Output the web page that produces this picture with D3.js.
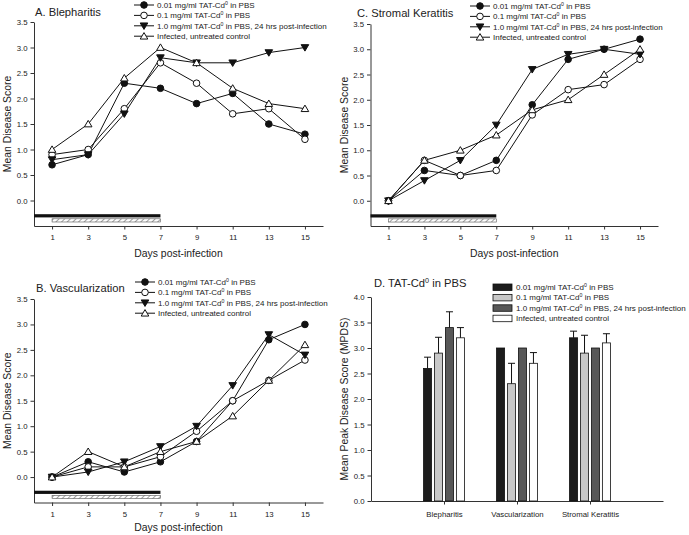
<!DOCTYPE html>
<html><head><meta charset="utf-8">
<script src="https://cdn.jsdelivr.net/npm/d3@7"></script>
<style>
body{margin:0;background:#fff;}
svg text{font-family:"Liberation Sans",Arial,sans-serif;fill:#222;}
</style></head>
<body><svg id="c" width="689" height="535"></svg>
<script>
// ---------- DATA ----------
const days = [1,3,5,7,9,11,13,15];
const seriesNames = ["0.01 mg/ml TAT-Cd|0| in PBS","0.1 mg/ml TAT-Cd|0| in PBS","1.0 mg/ml TAT-Cd|0| in PBS, 24 hrs post-infection","Infected, untreated control"];
const markerTypes = ["filledCircle","openCircle","filledDown","openUp"];

const blepharitis01 = [0.7,0.9,2.3,2.2,1.9,2.1,1.5,1.3];
const blepharitis1  = [0.9,1.0,1.8,2.7,2.3,1.7,1.8,1.2];
const blepharitis10 = [0.8,0.9,1.7,2.8,2.7,2.7,2.9,3.0];
const blepharitisCtl= [1.0,1.5,2.4,3.0,2.7,2.2,1.9,1.8];

const vasc01  = [0.0,0.3,0.1,0.3,0.7,1.5,2.7,3.0];
const vasc1   = [0.0,0.2,0.2,0.4,0.9,1.5,1.9,2.3];
const vasc10  = [0.0,0.1,0.3,0.6,1.0,1.8,2.8,2.4];
const vascCtl = [0.0,0.5,0.2,0.5,0.7,1.2,1.9,2.6];

const stromal01  = [0.0,0.6,0.5,0.8,1.9,2.8,3.0,3.2];
const stromal1   = [0.0,0.8,0.5,0.6,1.7,2.2,2.3,2.8];
const stromal10  = [0.0,0.4,0.8,1.5,2.6,2.9,3.0,2.9];
const stromalCtl = [0.0,0.8,1.0,1.3,1.8,2.0,2.5,3.0];

const lineTicksY = [0,0.5,1,1.5,2,2.5,3,3.5];
const treatmentSolid = [0,7];   // days
const treatmentHatch = [1,7];

const barCategories = ["Blepharitis","Vascularization","Stromal Keratitis"];
const peak01 = [2.6,3.0,3.2];
const peak1  = [2.9,2.3,2.9];
const peak10 = [3.4,3.0,3.0];
const peakCtl= [3.2,2.7,3.1];
const err01  = [0.22,0,0.13];
const err1   = [0.31,0.40,0.35];
const err10  = [0.31,0,0];
const errCtl = [0.20,0.21,0.18];
const barTicksY = [0,0.5,1,1.5,2,2.5,3,3.5,4];
const barColors = ["#1c1c1c","#c8c8c8","#585858","#ffffff"];

// ---------- HELPERS ----------
const svg = d3.select("#c");
const fmt = d3.format(".1f");
const TITLE_FS = 11.2, LEG_FS = 8, TICK_FS = 7.8, LAB_FS = 10.4;

function richText(sel, str, fs){
  const parts = str.split("|");
  parts.forEach((p,i)=>{
    if(i%2===1){
      sel.append("tspan").attr("font-size",fs*0.65).attr("dy",-fs*0.4).text(p);
    } else if(i>0){
      sel.append("tspan").attr("dy",fs*0.4).text(p);
    } else sel.append("tspan").text(p);
  });
}

const defs = svg.append("defs");
const pat = defs.append("pattern").attr("id","hatch").attr("patternUnits","userSpaceOnUse")
  .attr("width",4).attr("height",4).attr("patternTransform","rotate(45)");
pat.append("rect").attr("width",4).attr("height",4).attr("fill","#fff");
pat.append("line").attr("x1",0).attr("y1",0).attr("x2",0).attr("y2",4).attr("stroke","#444").attr("stroke-width",1);

function marker(g, type, x, y){
  const r = 3.3;
  if(type==="filledCircle"||type==="openCircle"){
    g.append("circle").attr("cx",x).attr("cy",y).attr("r",r)
      .attr("fill",type==="filledCircle"?"#111":"#fff").attr("stroke","#111").attr("stroke-width",1);
  } else {
    const s = 3.8;
    const pts = type==="filledDown"
      ? [[x-s,y-s*0.75],[x+s,y-s*0.75],[x,y+s*0.95]]
      : [[x-s,y+s*0.75],[x+s,y+s*0.75],[x,y-s*0.95]];
    g.append("polygon").attr("points",pts.map(p=>p.join(",")).join(" "))
      .attr("fill",type==="filledDown"?"#111":"#fff").attr("stroke","#111").attr("stroke-width",1);
  }
}

function linePanel(opt){
  const g = svg.append("g");
  const x = d3.scaleLinear().domain([0,16]).range([opt.x0,opt.x1]);
  const y = d3.scaleLinear().domain([-0.5,3.5]).range([opt.y0,opt.y1]);
  const ya = g.append("g").attr("transform",`translate(${opt.x0},0)`)
    .call(d3.axisLeft(y).tickValues(lineTicksY).tickFormat(fmt).tickSize(3.5).tickSizeOuter(0));
  const xa = g.append("g").attr("transform",`translate(0,${opt.y0})`)
    .call(d3.axisBottom(x).tickValues(days).tickSize(3.5).tickSizeOuter(0));
  [ya,xa].forEach(a=>{a.selectAll("path,line").attr("stroke","#333");a.selectAll("text").attr("font-size",TICK_FS).attr("font-family","Liberation Sans, Arial");});
  xa.selectAll("text").attr("dy","1em");
  g.append("rect").attr("x",x(treatmentSolid[0])).attr("width",x(treatmentSolid[1])-x(treatmentSolid[0]))
    .attr("y",y(-0.3)-1.6).attr("height",3.2).attr("fill","#111");
  g.append("rect").attr("x",x(treatmentHatch[0])).attr("width",x(treatmentHatch[1])-x(treatmentHatch[0]))
    .attr("y",y(-0.39)-1.6).attr("height",3.2).attr("fill","url(#hatch)").attr("stroke","#555").attr("stroke-width",0.6);
  const ln = d3.line().x((d,i)=>x(days[i])).y(d=>y(d));
  opt.series.forEach((s,k)=>{
    g.append("path").attr("d",ln(s)).attr("fill","none").attr("stroke","#111").attr("stroke-width",1);
  });
  opt.series.forEach((s,k)=>{
    s.forEach((v,i)=>marker(g,markerTypes[k],x(days[i]),y(v)));
  });
  g.append("text").attr("x",opt.titleX).attr("y",opt.titleY).attr("font-size",TITLE_FS).text(opt.title);
  g.append("text").attr("transform",`translate(${opt.ylabX},${(opt.y0+opt.y1)/2}) rotate(-90)`)
    .attr("text-anchor","middle").attr("font-size",LAB_FS).text("Mean Disease Score");
  g.append("text").attr("x",(opt.x0+opt.x1)/2).attr("y",opt.y0+opt.xlabOff).attr("text-anchor","middle")
    .attr("font-size",LAB_FS).text("Days post-infection");
  seriesNames.forEach((n,k)=>{
    const ly = opt.legY + k*10.4;
    g.append("line").attr("x1",opt.legX).attr("x2",opt.legX+20).attr("y1",ly).attr("y2",ly).attr("stroke","#111");
    marker(g,markerTypes[k],opt.legX+10,ly);
    const t = g.append("text").attr("x",opt.legX+23).attr("y",ly+3).attr("font-size",LEG_FS);
    richText(t,n,LEG_FS);
  });
}

linePanel({x0:34,x1:323,y0:226,y1:22,series:[blepharitis01,blepharitis1,blepharitis10,blepharitisCtl],
  title:"A. Blepharitis",titleX:35,titleY:16,ylabX:11,legX:134,legY:5,xlabOff:31});
linePanel({x0:34,x1:323,y0:502.5,y1:299,series:[vasc01,vasc1,vasc10,vascCtl],
  title:"B. Vascularization",titleX:36,titleY:292,ylabX:11,legX:135,legY:282,xlabOff:28});
linePanel({x0:370.5,x1:658,y0:226,y1:24,series:[stromal01,stromal1,stromal10,stromalCtl],
  title:"C. Stromal Keratitis",titleX:357,titleY:17,ylabX:348,legX:470,legY:6,xlabOff:31});

// ---------- BAR PANEL D ----------
(function(){
  const g = svg.append("g");
  const x0=371,x1=663,yb=501,yt=297;
  const x = d3.scaleLinear().domain([0,4]).range([x0,x1]);
  const y = d3.scaleLinear().domain([0,4]).range([yb,yt]);
  const ya = g.append("g").attr("transform",`translate(${x0},0)`)
    .call(d3.axisLeft(y).tickValues(barTicksY).tickFormat(fmt).tickSize(3.5).tickSizeOuter(0));
  const xa = g.append("g").attr("transform",`translate(0,${yb})`)
    .call(d3.axisBottom(x).tickValues([1,2,3]).tickFormat((d,i)=>barCategories[i]).tickSize(3.5).tickSizeOuter(0));
  [ya,xa].forEach(a=>{a.selectAll("path,line").attr("stroke","#333");a.selectAll("text").attr("font-size",TICK_FS);});
  xa.selectAll("text").attr("dy","1.2em");
  const inner = d3.scaleBand().domain([0,1,2,3]).range([-20.5,20.5]).paddingInner(0.26);
  const vals=[peak01,peak1,peak10,peakCtl], errs=[err01,err1,err10,errCtl];
  barCategories.forEach((c,ci)=>{
    vals.forEach((arr,k)=>{
      const bx = x(ci+1)+inner(k), bw = inner.bandwidth();
      g.append("rect").attr("x",bx).attr("y",y(arr[ci])).attr("width",bw).attr("height",yb-y(arr[ci]))
        .attr("fill",barColors[k]).attr("stroke","#111").attr("stroke-width",0.8);
      const e = errs[k][ci];
      if(e>0){
        const cx = bx+bw/2;
        g.append("line").attr("x1",cx).attr("x2",cx).attr("y1",y(arr[ci])).attr("y2",y(arr[ci]+e)).attr("stroke","#111");
        g.append("line").attr("x1",cx-3.5).attr("x2",cx+3.5).attr("y1",y(arr[ci]+e)).attr("y2",y(arr[ci]+e)).attr("stroke","#111");
      }
    });
  });
  const t = g.append("text").attr("x",374).attr("y",287).attr("font-size",TITLE_FS);
  richText(t,"D. TAT-Cd|0| in PBS",TITLE_FS);
  g.append("text").attr("transform",`translate(348,${(yb+yt)/2}) rotate(-90)`)
    .attr("text-anchor","middle").attr("font-size",LAB_FS).text("Mean Peak Disease Score (MPDS)");
  seriesNames.forEach((n,k)=>{
    const ly = 284 + k*10.4;
    g.append("rect").attr("x",493).attr("y",ly).attr("width",19).attr("height",6.5)
      .attr("fill",barColors[k]).attr("stroke","#111").attr("stroke-width",0.8);
    const tt = g.append("text").attr("x",516).attr("y",ly+6).attr("font-size",LEG_FS);
    richText(tt,n,LEG_FS);
  });
})();
</script></body></html>
